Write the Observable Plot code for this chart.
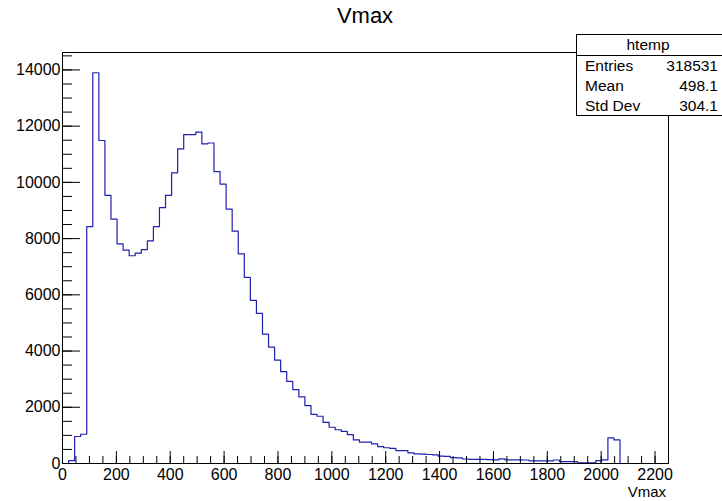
<!DOCTYPE html>
<html>
<head>
<meta charset="utf-8">
<script src="https://cdn.jsdelivr.net/npm/d3@7"></script>
<script src="https://cdn.jsdelivr.net/npm/@observablehq/plot@0.6"></script>
<style>
  html, body { margin: 0; padding: 0; background: #fff; }
  #wrap { position: relative; width: 722px; height: 501px; overflow: hidden; font-family: "Liberation Sans", Arial, sans-serif; }
  #title { position: absolute; left: 0; width: 730px; top: 3px; text-align: center; font-size: 22px; color: #000; }
  #xlabel { position: absolute; right: 56px; top: 483px; font-size: 15px; }
  #stats { position: absolute; left: 576px; top: 34px; width: 150px; height: 82px; border: 1px solid #000; background: #fff; font-size: 15.5px; box-sizing: border-box; }
  #stats .hdr { height: 20px; border-bottom: 1px solid #000; text-align: center; line-height: 20px; padding-right: 6px; }
  #stats .row { position: relative; height: 20px; line-height: 20px; }
  #stats .row .k { position: absolute; left: 8px; }
  #stats .row .v { position: absolute; right: 7px; }
</style>
</head>
<body>
<div id="wrap">
  <div id="chart"></div>
  <div id="title">Vmax</div>
  <div id="xlabel">Vmax</div>
  <div id="stats"></div>
</div>
<script>
// Histogram definition (ROOT htemp): 100 bins from 0 to 2250
const xMin = 0;
const binWidth = 22.5;
const counts = [
  0, 100, 960, 1040, 8425, 13900, 11490, 9540, 8690, 7810,
  7590, 7390, 7480, 7610, 7920, 8425, 9100, 9540, 10340, 11190,
  11700, 11700, 11790, 11370, 11400, 10380, 9940, 9050, 8265, 7460,
  6620, 5800, 5340, 4600, 4140, 3680, 3270, 2920, 2630, 2370,
  2060, 1750, 1680, 1460, 1290, 1200, 1140, 1030, 840, 760,
  760, 700, 600, 560, 540, 460, 460, 380, 340, 330,
  320, 310, 260, 255, 210, 200, 160, 150, 150, 145,
  140, 130, 165, 130, 130, 130, 125, 95, 95, 95,
  95, 125, 70, 70, 70, 25, 25, 25, 105, 130,
  910, 840, 0, 0, 0, 0, 0, 0, 0, 0
];
const xDomain = [0, 2250];
const yDomain = [0, 14620];
const xMajorTicks = [0, 200, 400, 600, 800, 1000, 1200, 1400, 1600, 1800, 2000, 2200];
const xMinorTicks = d3.range(0, 2251, 50);
const yMajorTicks = [0, 2000, 4000, 6000, 8000, 10000, 12000, 14000];
const yMinorTicks = d3.range(0, 14601, 500);
const statsTitle = "htemp";
const statsLabels = ["Entries", "Mean", "Std Dev"];
const statsValues = ["318531", "498.1", "304.1"];

// step points: left edge of each bin, plus the right edge of the last one
const steps = counts.map((c, i) => ({x: xMin + i * binWidth, y: c}));
steps.push({x: xMin + counts.length * binWidth, y: counts[counts.length - 1]});

const lineColor = "#2020b0";

const plot = Plot.plot({
  width: 722,
  height: 501,
  marginLeft: 62,
  marginRight: 54,
  marginTop: 52,
  marginBottom: 38,
  style: {fontFamily: "'Liberation Sans', Arial, sans-serif", fontSize: "16px", color: "#000", background: "#fff"},
  x: {domain: xDomain, label: null},
  y: {domain: yDomain, label: null},
  marks: [
    Plot.lineY(steps, {x: "x", y: "y", curve: "step-after", stroke: lineColor, strokeWidth: 1.2}),
    Plot.axisX({ticks: xMinorTicks, tickSize: -7, text: null, stroke: "#000"}),
    Plot.axisX({ticks: xMajorTicks, tickSize: -12, text: null, stroke: "#000"}),
    Plot.axisX({ticks: xMajorTicks, tickSize: 0, tickPadding: 5, fontSize: 16, fill: "#000", tickFormat: d => String(d)}),
    Plot.axisY({ticks: yMinorTicks, tickSize: -10, text: null, stroke: "#000"}),
    Plot.axisY({ticks: yMajorTicks, tickSize: 0, tickPadding: 2, fontSize: 16, fill: "#000", tickFormat: d => String(d)}),
    Plot.axisY({ticks: yMajorTicks, tickSize: -18, text: null, stroke: "#000"}),
    Plot.frame({stroke: "#000"})
  ]
});
document.getElementById("chart").appendChild(plot);

const stats = document.getElementById("stats");
const hdr = document.createElement("div");
hdr.className = "hdr";
hdr.textContent = statsTitle;
stats.appendChild(hdr);
statsLabels.forEach((k, i) => {
  const row = document.createElement("div");
  row.className = "row";
  const a = document.createElement("span"); a.className = "k"; a.textContent = k;
  const b = document.createElement("span"); b.className = "v"; b.textContent = statsValues[i];
  row.appendChild(a); row.appendChild(b);
  stats.appendChild(row);
});
</script>
</body>
</html>
